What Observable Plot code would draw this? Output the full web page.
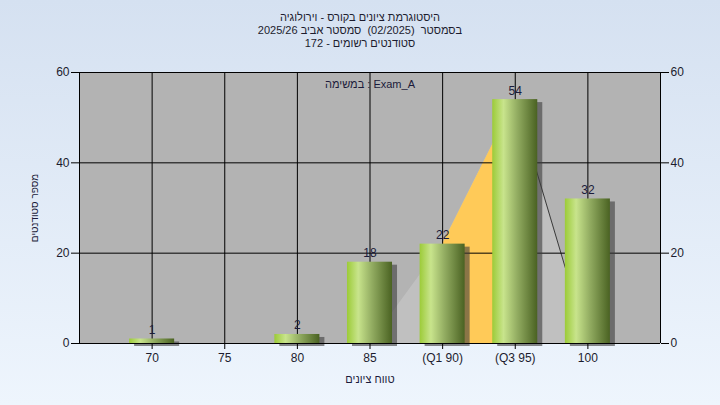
<!DOCTYPE html>
<html><head><meta charset="utf-8">
<script src="https://cdn.jsdelivr.net/npm/d3@7"></script>
<script src="https://cdn.jsdelivr.net/npm/@observablehq/plot@0.6"></script>
<style>
html,body{margin:0;padding:0;}
#wrap{position:relative;width:720px;height:405px;overflow:hidden;background:linear-gradient(#d5e1f1,#eef5fd);font-family:"Liberation Sans",Arial,sans-serif;}
#title{position:absolute;top:11px;left:0;width:720px;text-align:center;direction:rtl;font-size:11px;line-height:13px;color:#1c1c2e;white-space:pre;}
#chart{position:absolute;top:0;left:0;}
</style></head>
<body><div id="wrap"><div id="chart"></div><div id="title"></div></div>
<script>
const titleLines = ["היסטוגרמת ציונים בקורס - וירולוגיה", "בסמסטר  (02/2025)  סמסטר אביב 2025/26", "סטודנטים רשומים - 172"];
const grades = [70, 75, 80, 85, 90, 95, 100];
const counts = [1, 0, 2, 18, 22, 54, 32];
const tickLabels = ["70", "75", "80", "85", "(Q1 90)", "(Q3 95)", "100"];
const shapeX = [85, 90, 95, 100];
const shapeY = [0, 22, 54, 0];
const quartileX = [90, 95];
const quartileY = [22, 54];
const tailX = [95, 100];
const tailY = [54, 0];
const examLabel = "במשימה : Exam_A";
const yLabel = "מספר סטודנטים";
const xLabel = "טווח ציונים";

document.getElementById("title").innerHTML = titleLines.map(t => `<div>${t}</div>`).join("");

const bars = grades.map((g, i) => ({g, c: counts[i]}));
const shape = shapeX.map((x, i) => ({x, y: shapeY[i]}));
const quart = quartileX.map((x, i) => ({x, y: quartileY[i]}));
const tail = tailX.map((x, i) => ({x, y: tailY[i]}));
const half = 1.55;

const plot = Plot.plot({
  width: 720, height: 405,
  marginTop: 72, marginBottom: 62, marginLeft: 79, marginRight: 60,
  style: {background: "transparent", fontSize: "12px", fontFamily: "'Liberation Sans', Arial, sans-serif", color: "#1c1c2e"},
  x: {type: "linear", domain: [65, 105]},
  y: {domain: [0, 60]},
  marks: [
    Plot.frame({fill: "#b3b3b3", stroke: null}),
    Plot.areaY(shape, {x: "x", y: "y", fill: "#c0c0c0"}),
    Plot.areaY(quart, {x: "x", y: "y", fill: "#ffca58"}),
    Plot.line(tail, {x: "x", y: "y", stroke: "#3a3a3a", strokeWidth: 1}),
    Plot.gridX(grades, {stroke: "#000", strokeOpacity: 1}),
    Plot.gridY([20, 40, 60], {stroke: "#000", strokeOpacity: 1}),
    Plot.rectY(bars.filter(d => d.c > 0), {x1: d => d.g - half, x2: d => d.g + half, y: "c", fill: "#3c3c3c", fillOpacity: 0.6, dx: 5, dy: 3, ariaLabel: "shadow"}),
    Plot.rectY(bars.filter(d => d.c > 0), {x1: d => d.g - half, x2: d => d.g + half, y: "c", fill: "url(#barGrad)", ariaLabel: "bars"}),
    Plot.text(bars.filter(d => d.c > 0), {x: "g", y: "c", text: d => String(d.c), dy: -5, lineAnchor: "bottom", fill: "#1b1b3a", fontSize: 12}),
    Plot.text([examLabel], {frameAnchor: "top", dy: 8, text: d => d, fill: "#1b1b3a", fontSize: 11, lineAnchor: "top"}),
    Plot.ruleX([65, 105], {stroke: "#000"}),
    Plot.ruleY([0], {stroke: "#000"}),
    Plot.axisX(grades, {tickFormat: (d) => tickLabels[grades.indexOf(d)], tickSize: 6, tickPadding: 4, stroke: "#000", label: null, fontSize: 12}),
    Plot.axisY([0, 20, 40, 60], {anchor: "left", tickSize: 8, tickPadding: 2, stroke: "#000", label: null, fontSize: 12}),
    Plot.axisY([0, 20, 40, 60], {anchor: "right", tickSize: 8, tickPadding: 2, stroke: "#000", label: null, fontSize: 12}),
    Plot.text([yLabel], {frameAnchor: "left", dx: -45, rotate: -90, textAnchor: "middle", text: d => d, fill: "#1b1b3a", fontSize: 10}),
    Plot.text([xLabel], {frameAnchor: "bottom", dy: 39, text: d => d, fill: "#1b1b3a", fontSize: 11})
  ]
});

const svg = d3.select(plot);
const defs = svg.insert("defs", ":first-child");
defs.html(`
<linearGradient id="barGrad" x1="0" y1="0" x2="1" y2="0">
  <stop offset="0" stop-color="#9ccb38"/>
  <stop offset="0.25" stop-color="#c8e48c"/>
  <stop offset="0.55" stop-color="#93ad62"/>
  <stop offset="1" stop-color="#4a6222"/>
</linearGradient>
<filter id="blurShadow" x="-20%" y="-20%" width="140%" height="140%"><feGaussianBlur stdDeviation="2"/></filter>`);
svg.select("g[aria-label='shadow']").attr("filter", "url(#blurShadow)");
document.getElementById("chart").appendChild(plot);
</script></body></html>
